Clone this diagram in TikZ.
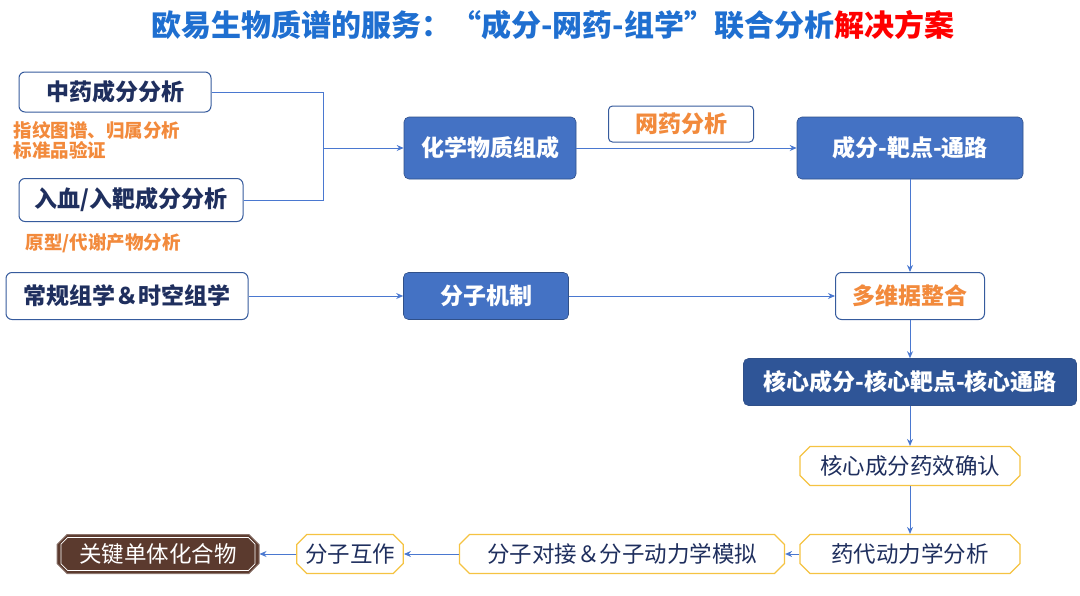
\documentclass[tikz,border=0pt]{standalone}
\usepackage{fontspec}
\setmainfont{Noto Sans CJK SC}
\usetikzlibrary{arrows.meta,shapes.misc}
\definecolor{navy}{HTML}{1F2F5E}
\definecolor{bfill}{HTML}{4472C4}
\definecolor{dfill}{HTML}{2F5597}
\definecolor{org}{HTML}{F28A3C}
\definecolor{ttl}{HTML}{1F6FD0}
\definecolor{brn}{HTML}{5B3A2E}
\definecolor{yel}{HTML}{F5C342}
\definecolor{ln}{HTML}{4A78D0}
\begin{document}
\begin{tikzpicture}[x=1pt,y=-1pt,
  wbox/.style={draw=bfill!80!black,line width=1pt,rounded corners=6pt,fill=white,font=\fontsize{23}{23}\selectfont\bfseries,text=navy},
  fbox/.style={draw=bfill!70!black,line width=0.6pt,rounded corners=5pt,fill=bfill,font=\fontsize{23}{23}\selectfont\bfseries,text=white},
  ch/.style={chamfered rectangle,chamfered rectangle xsep=5pt,chamfered rectangle ysep=5pt},
  ybox/.style={ch,draw=yel,line width=1.2pt,fill=white,font=\fontsize{22.5}{23}\selectfont,text=navy},
  arr/.style={draw=ln,line width=0.9pt,-{Stealth[length=7pt,width=6pt]}},
  lnk/.style={draw=ln,line width=0.9pt},
  otxt/.style={text=org,font=\fontsize{18.5}{23}\selectfont\bfseries,anchor=west,align=left}]
\useasboundingbox (0,0) rectangle (1080,595);
\node[font=\fontsize{30}{30}\selectfont\bfseries,text=ttl] (title) at (553,25) {欧易生物质谱的服务：“成分-网药-组学”联合分析\textcolor{red}{解决方案}};
\node[wbox,minimum width=192pt,minimum height=40pt] (zy) at (115,92) {中药成分分析};
\node[otxt] (o1) at (10,140) {指纹图谱、归属分析\\[-3pt]标准品验证};
\node[wbox,minimum width=224pt,minimum height=43pt] (rx) at (131,200) {入血/入靶成分分析};
\node[otxt] (o2) at (22,243) {原型/代谢产物分析};
\node[wbox,minimum width=242pt,minimum height=47pt] (cg) at (127,296) {常规组学＆时空组学};
\node[fbox,minimum width=172pt,minimum height=62pt] (hx) at (490,148) {化学物质组成};
\node[wbox,text=org,minimum width=145pt,minimum height=36pt,rounded corners=4pt] (wy) at (681,124) {网药分析};
\node[fbox,minimum width=226pt,minimum height=62pt] (cf) at (910,148) {成分-靶点-通路};
\node[fbox,minimum width=165pt,minimum height=47pt] (fz) at (486,296) {分子机制};
\node[wbox,text=org,minimum width=149pt,minimum height=47pt] (dw) at (910,296) {多维据整合};
\node[fbox,fill=dfill,minimum width=333pt,minimum height=47pt] (hh) at (910,382) {核心成分-核心靶点-核心通路};
\node[ybox,minimum width=220pt,minimum height=39pt] (yx) at (910,466) {核心成分药效确认};
\node[ybox,minimum width=220pt,minimum height=39pt] (yd) at (910,554) {药代动力学分析};
\node[ybox,minimum width=325pt,minimum height=39pt] (dj) at (622,554) {分子对接＆分子动力学模拟};
\node[ybox,minimum width=105pt,minimum height=39pt] (hz) at (350,554) {分子互作};
\node[ch,fill=brn,draw=brn!70,line width=1pt,minimum width=202pt,minimum height=39pt,font=\fontsize{22.5}{23}\selectfont,text=white] (gj) at (158,554) {关键单体化合物};
\node[ch,chamfered rectangle xsep=4pt,chamfered rectangle ysep=4pt,draw=white,line width=0.8pt,minimum width=194pt,minimum height=33pt] (gji) at (158,554) {};
\coordinate (j1) at (323,92);
\coordinate (j2) at (323,200);
\coordinate (j3) at (323,148);
\draw[lnk] (zy.east) -- (j1) -- (j2) -- (rx.east);
\draw[arr] (j3) -- (hx.west);
\draw[arr] (hx.east) -- (cf.west);
\draw[arr] (cf.south) -- (dw.north);
\draw[arr] (cg.east) -- (fz.west);
\draw[arr] (fz.east) -- (dw.west);
\draw[arr] (dw.south) -- (hh.north);
\draw[arr] (hh.south) -- (yx.north);
\draw[arr] (yx.south) -- (yd.north);
\draw[arr] (yd.west) -- (dj.east);
\draw[arr] (dj.west) -- (hz.east);
\draw[arr] (hz.west) -- (gj.east);
\end{tikzpicture}
\end{document}
